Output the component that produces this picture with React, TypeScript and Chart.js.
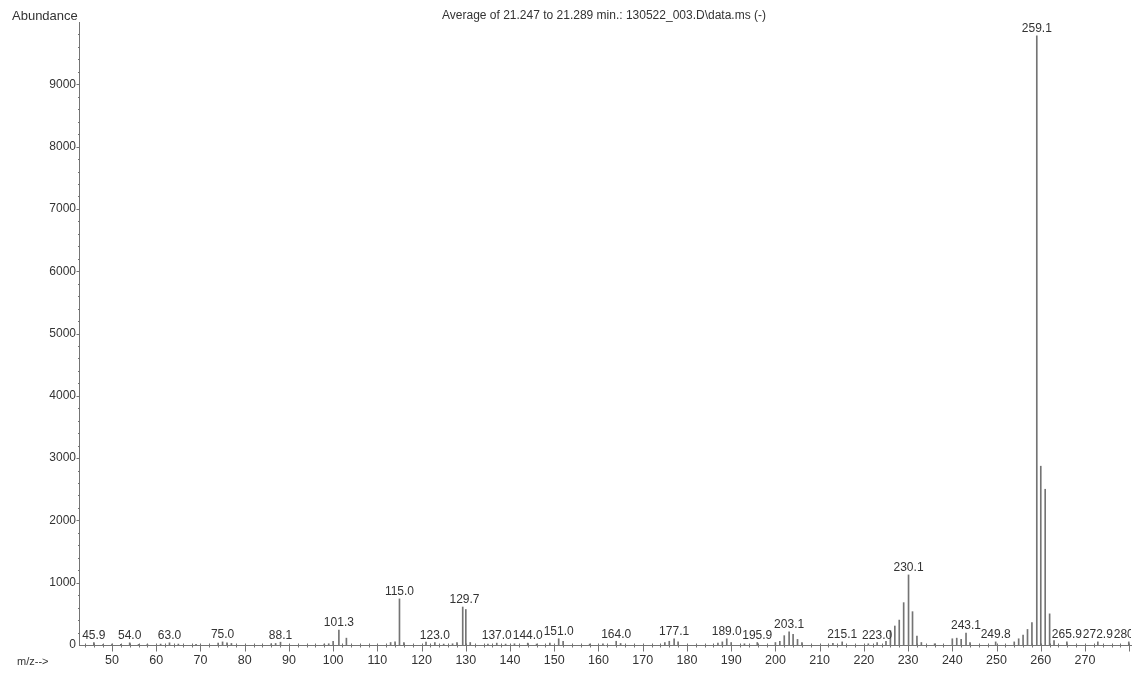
import { useEffect, useRef } from "react";
import { Chart, registerables } from "chart.js";

Chart.register(...registerables);

// m/z of each stick
const mzValues = [
  45.9, 48, 50, 52, 54.0, 56, 58, 61, 63.0, 65, 69, 74, 75.0, 76, 77, 86, 87, 88.1,
  98, 99, 100, 101.3, 103, 113, 114, 115.0, 116, 121, 123.0, 125, 127, 128, 129.3, 130.0,
  131, 135, 137.0, 139, 141, 144.0, 146, 149, 151.0, 152, 158, 161, 164.0, 165,
  175, 176, 177.1, 178, 187, 188, 189.0, 190, 193, 195.9, 200, 201, 202, 203.1, 204,
  205, 206, 213, 215.1, 221, 223.0, 225, 226, 227, 228, 229, 230.1, 231, 232, 233,
  236, 240, 241, 242, 243.1, 244, 249.8, 254, 255, 256, 257, 258, 259.1, 260, 261,
  262, 263, 265.9, 272.9, 279.9,
];
// abundance of each stick
const abundances = [
  40, 12, 15, 12, 35, 10, 12, 15, 35, 15, 12, 30, 50, 35, 25, 20, 25, 45,
  15, 20, 60, 240, 110, 40, 50, 740, 40, 45, 40, 15, 20, 40, 610, 570,
  40, 15, 30, 15, 20, 30, 15, 30, 100, 60, 15, 20, 60, 25,
  40, 60, 100, 50, 30, 50, 100, 40, 20, 40, 40, 60, 150, 210, 170,
  90, 40, 25, 50, 20, 40, 60, 230, 305, 400, 680, 1125, 535, 145, 40,
  20, 100, 110, 90, 190, 40, 50, 50, 100, 160, 250, 360, 9780, 2870, 2500,
  500, 70, 50, 50, 50,
];
// annotated peaks
const labelMz = [
  45.9, 54.0, 63.0, 75.0, 88.1, 101.3, 115.0, 123.0, 129.7, 137.0, 144.0, 151.0, 164.0,
  177.1, 189.0, 195.9, 203.1, 215.1, 223.0, 230.1, 243.1, 249.8, 259.1, 265.9, 272.9, 279.9,
];
const labelText = [
  "45.9", "54.0", "63.0", "75.0", "88.1", "101.3", "115.0", "123.0", "129.7", "137.0",
  "144.0", "151.0", "164.0", "177.1", "189.0", "195.9", "203.1", "215.1", "223.0",
  "230.1", "243.1", "249.8", "259.1", "265.9", "272.9", "280.0",
];
const xTickValues = [50, 60, 70, 80, 90, 100, 110, 120, 130, 140, 150, 160, 170, 180, 190, 200, 210, 220, 230, 240, 250, 260, 270];
const yTickValues = [0, 1000, 2000, 3000, 4000, 5000, 6000, 7000, 8000, 9000];
const titleText = "Average of 21.247 to 21.289 min.: 130522_003.D\\data.ms (-)";
const yAxisTitle = "Abundance";
const xAxisTitle = "m/z-->";

const X_MIN = 42.54;
const X_MAX = 280.4;
const Y_MAX = 10000;

const TEXT = "#333333";
const LINE = "#747474";
const SANS = "'Liberation Sans', Arial, sans-serif";

export default function App() {
  const ref = useRef<HTMLCanvasElement | null>(null);

  useEffect(() => {
    const canvas = ref.current;
    if (!canvas) return;

    const decor = {
      id: "msDecor",
      afterDatasetsDraw(chart: any) {
        const { ctx, chartArea } = chart;
        const xs = chart.scales.x;
        const ys = chart.scales.y;
        ctx.save();
        // minor / major x ticks
        ctx.strokeStyle = LINE;
        ctx.lineWidth = 1;
        const base = Math.round(ys.getPixelForValue(0)) + 0.5;
        for (let v = 44; v <= 280; v += 2) {
          const px = Math.round(xs.getPixelForValue(v)) + 0.5;
          ctx.beginPath();
          if (v % 10 === 0) {
            ctx.moveTo(px, base - 2);
            ctx.lineTo(px, base + 6);
          } else {
            ctx.moveTo(px, base - 2);
            ctx.lineTo(px, base + 2);
          }
          ctx.stroke();
        }
        // minor y ticks
        const axisX = Math.round(xs.left) + 0.5;
        for (let v = 200; v < Y_MAX; v += 200) {
          const py = Math.round(ys.getPixelForValue(v)) + 0.5;
          ctx.beginPath();
          ctx.moveTo(axisX - (v % 1000 === 0 ? 3 : 1.5), py);
          ctx.lineTo(axisX, py);
          ctx.stroke();
        }
        // peak labels
        ctx.beginPath();
        ctx.rect(chartArea.left - 20, 0, chartArea.right - chartArea.left + 20, chartArea.bottom);
        ctx.clip();
        ctx.fillStyle = TEXT;
        ctx.font = `12px ${SANS}`;
        ctx.textAlign = "center";
        ctx.textBaseline = "bottom";
        labelMz.forEach((mz, i) => {
          let top = 0;
          mzValues.forEach((m, j) => {
            if (Math.abs(m - mz) <= 0.75) top = Math.max(top, abundances[j]);
          });
          const px = xs.getPixelForValue(mz);
          const py = ys.getPixelForValue(top) - 1;
          ctx.fillText(labelText[i], px, py);
        });
        ctx.restore();

        // titles
        ctx.save();
        ctx.fillStyle = TEXT;
        ctx.textBaseline = "alphabetic";
        ctx.font = `13px ${SANS}`;
        ctx.textAlign = "left";
        ctx.fillText(yAxisTitle, 12, 20);
        ctx.font = `12px ${SANS}`;
        ctx.textAlign = "center";
        ctx.fillText(titleText, 604, 19);
        ctx.font = `11px ${SANS}`;
        ctx.textAlign = "left";
        ctx.fillText(xAxisTitle, 17, 665);
        ctx.restore();
      },
    };

    const chart = new Chart(canvas, {
      type: "bar",
      data: {
        datasets: [
          {
            data: mzValues.map((m, i) => ({ x: m, y: abundances[i] })),
            backgroundColor: LINE,
            borderWidth: 0,
            barThickness: 1,
          },
        ],
      },
      options: {
        responsive: false,
        animation: false,
        events: [],
        layout: { padding: { top: 22, right: 9, left: 0, bottom: 0 } },
        plugins: {
          legend: { display: false },
          tooltip: { enabled: false },
          title: { display: false },
        },
        scales: {
          x: {
            type: "linear",
            min: X_MIN,
            max: X_MAX,
            offset: false,
            grid: { display: false, drawTicks: false, tickLength: 0 },
            border: { display: true, color: LINE, width: 1 },
            afterBuildTicks: (s: any) => {
              s.ticks = xTickValues.map((v) => ({ value: v }));
            },
            afterFit: (s: any) => {
              s.height = 30;
            },
            ticks: {
              autoSkip: false,
              maxRotation: 0,
              padding: 8,
              color: TEXT,
              font: { family: SANS, size: 12.5 },
              callback: (v: any) => String(v),
            },
          },
          y: {
            type: "linear",
            min: 0,
            max: Y_MAX,
            grid: { display: false, drawTicks: false, tickLength: 0 },
            border: { display: true, color: LINE, width: 1 },
            afterBuildTicks: (s: any) => {
              s.ticks = yTickValues.map((v) => ({ value: v }));
            },
            afterFit: (s: any) => {
              s.width = 79;
            },
            ticks: {
              padding: 3,
              color: TEXT,
              font: { family: SANS, size: 12 },
              callback: (v: any) => String(v),
            },
          },
        },
      },
      plugins: [decor],
    } as any);

    return () => chart.destroy();
  }, []);

  return (
    <div style={{ position: "fixed", left: 0, top: 0, width: 1140, height: 675, background: "#fff" }}>
      <canvas ref={ref} width={1140} height={675} />
    </div>
  );
}
